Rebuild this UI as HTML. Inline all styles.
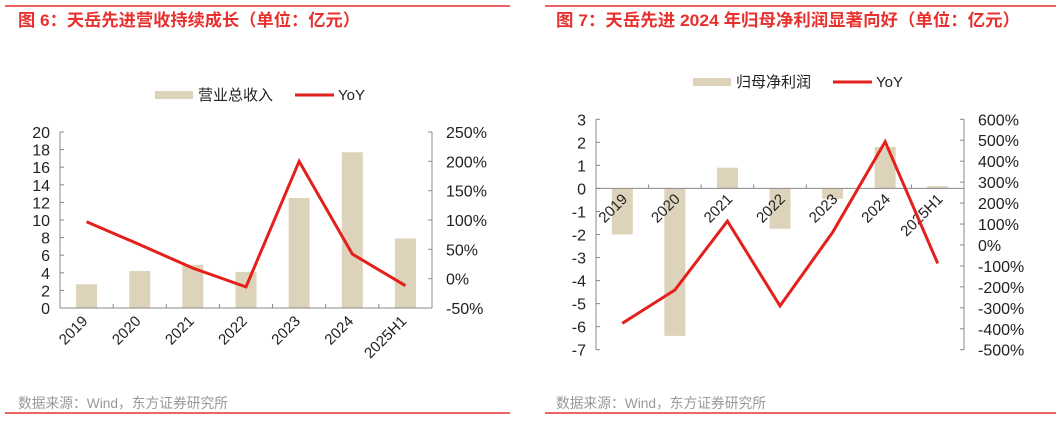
<!DOCTYPE html>
<html><head><meta charset="utf-8"><style>
body{margin:0;background:#fff;width:1061px;height:420px;overflow:hidden}
svg text{font-family:"Liberation Sans","Noto Sans CJK SC",sans-serif}
</style></head><body>
<svg id="s" width="1061" height="420"></svg>
<script>
const cats=["2019","2020","2021","2022","2023","2024","2025H1"];
const rev=[2.7,4.2,4.9,4.1,12.5,17.7,7.9];
const revYoY=[97,58,18,-14,200,42,-12];
const ni=[-2.0,-6.4,0.9,-1.75,-0.45,1.8,0.1];
const niYoY=[-374,-215,114,-291,60,493,-88];
const lt1=[0,2,4,6,8,10,12,14,16,18,20];
const rt1=[-50,0,50,100,150,200,250];
const lt2=[-7,-6,-5,-4,-3,-2,-1,0,1,2,3];
const rt2=[-500,-400,-300,-200,-100,0,100,200,300,400,500,600];
const S=document.getElementById('s');const NS="http://www.w3.org/2000/svg";
function el(t,a,txt,name,p){const e=document.createElementNS(NS,t);for(const k in a)e.setAttribute(k,a[k]);if(txt!=null)e.textContent=txt;


(p||S).appendChild(e);return e;}
function chart(o){
 const g=el('g',{},null,o.name);
 el('line',{x1:o.r1,x2:o.r2,y1:6,y2:6,stroke:'#e8312f','stroke-width':1.5},null,'top-rule',g);
 el('line',{x1:o.r1,x2:o.r2,y1:413,y2:413,stroke:'#e8312f','stroke-width':1.5},null,'bottom-rule',g);
 el('text',{x:o.tx,y:26,fill:'#e8312f','font-size':17,'font-weight':'bold',textLength:o.tl,lengthAdjust:'spacingAndGlyphs'},o.title,'chart-title',g);
 el('text',{x:o.tx,y:408,fill:'#999','font-size':14,textLength:210,lengthAdjust:'spacingAndGlyphs'},'数据来源：Wind，东方证券研究所','source-note',g);
 const L=o.L,R=o.R,T=o.T,B=o.B,n=cats.length,w=(R-L)/n;
 const yl=v=>B-(v-o.lmin)/(o.lmax-o.lmin)*(B-T);
 const yr=v=>B-(v-o.rmin)/(o.rmax-o.rmin)*(B-T);
 const cx=i=>L+w*(i+0.5);
 el('rect',{x:o.lg,y:o.ly-4,width:38,height:8,fill:'#ddd3bb'},null,'legend-bar-swatch',g);
 el('text',{x:o.lg+43,y:o.ly+5,'font-size':15,fill:'#222'},o.barName,'legend-bar-label',g);
 el('line',{x1:o.lg+140,x2:o.lg+179,y1:o.ly,y2:o.ly,stroke:'#e3201c','stroke-width':3},null,'legend-line-swatch',g);
 el('text',{x:o.lg+183,y:o.ly+5,'font-size':15,fill:'#222'},'YoY','legend-line-label',g);
 const z=yl(0);
 o.bars.forEach((v,i)=>{const y=yl(v);el('rect',{x:cx(i)-10.5,y:Math.min(y,z),width:21,height:Math.abs(y-z),fill:'#ddd3bb'},null,'bar-'+cats[i],g);});
 el('line',{x1:L,x2:L,y1:T,y2:B,stroke:'#888'},null,'left-axis',g);
 el('line',{x1:R,x2:R,y1:T,y2:B,stroke:'#888'},null,'right-axis',g);
 el('line',{x1:L,x2:R,y1:z,y2:z,stroke:'#888'},null,'x-axis',g);
 for(let i=1;i<n;i++)el('line',{x1:L+w*i,x2:L+w*i,y1:z,y2:z-4,stroke:'#888'},null,'x-tick',g);
 o.lt.forEach(v=>{el('line',{x1:L,x2:L+4,y1:yl(v),y2:yl(v),stroke:'#888'},null,'left-tick',g);
  el('text',{x:L-10,y:yl(v)+6,'text-anchor':'end','font-size':16,fill:'#222'},String(v),'left-tick-label',g);});
 o.rt.forEach(v=>{el('line',{x1:R,x2:R-4,y1:yr(v),y2:yr(v),stroke:'#888'},null,'right-tick',g);
  el('text',{x:R+14,y:yr(v)+6,'font-size':16,fill:'#222'},v+'%','right-tick-label',g);});
 cats.forEach((c,i)=>{const x=cx(i)+o.lx,y=o.lyb;
  el('text',{x:x,y:y,'text-anchor':'end','font-size':15,fill:'#222',transform:`rotate(-45 ${x} ${y})`},c,'x-tick-label',g);});
 el('polyline',{points:o.line.map((v,i)=>cx(i)+','+yr(v)).join(' '),fill:'none',stroke:'#e3201c','stroke-width':3,'stroke-linejoin':'miter'},null,'yoy-line',g);
}
chart({name:'revenue-chart',r1:5,r2:510,tx:18,tl:342,title:'图 6：天岳先进营收持续成长（单位：亿元）',L:60,R:432,T:132,B:308,lmin:0,lmax:20,rmin:-50,rmax:250,bars:rev,line:revYoY,lt:lt1,rt:rt1,lg:155,ly:95,barName:'营业总收入',lx:2,lyb:322});
chart({name:'net-profit-chart',r1:545,r2:1056,tx:556,tl:464,title:'图 7：天岳先进 2024 年归母净利润显著向好（单位：亿元）',L:596,R:964,T:119.3,B:349.7,lmin:-7,lmax:3,rmin:-500,rmax:600,bars:ni,line:niYoY,lt:lt2,rt:rt2,lg:693,ly:82,barName:'归母净利润',lx:6,lyb:200});
</script></body></html>
